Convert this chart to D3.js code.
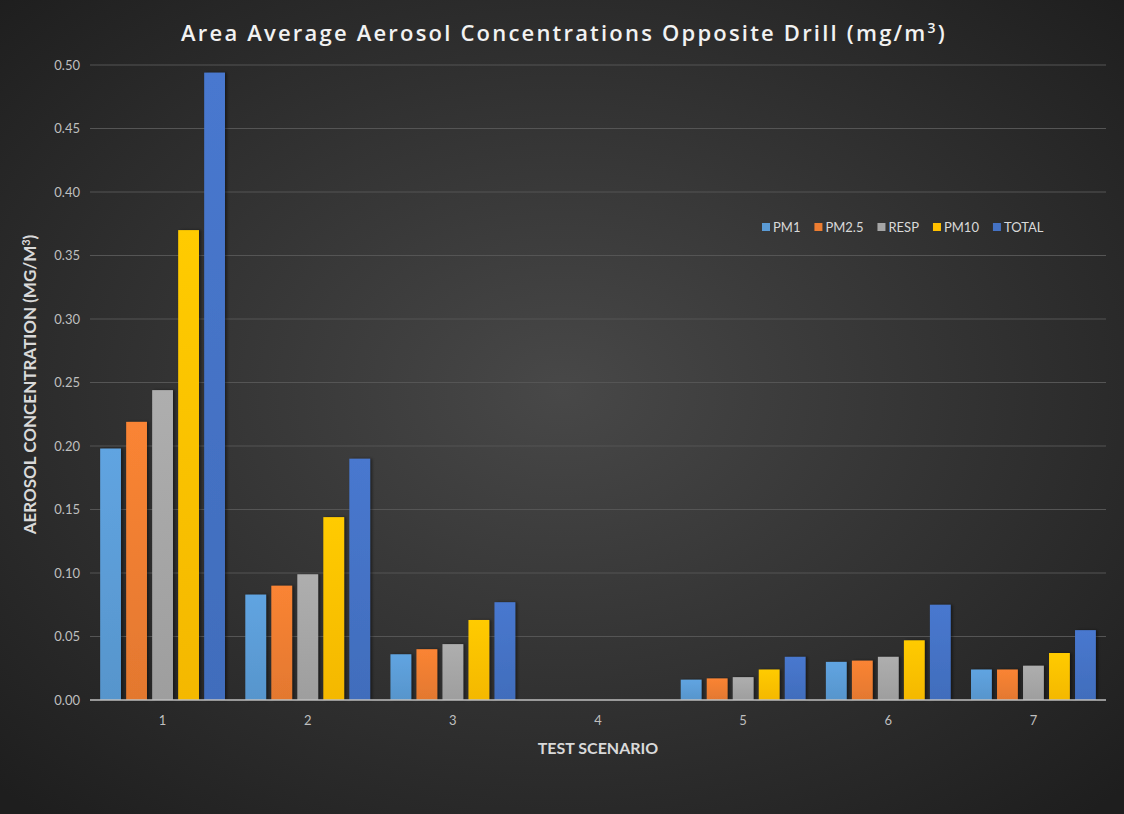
<!DOCTYPE html>
<html>
<head>
<meta charset="utf-8">
<script src="https://cdn.jsdelivr.net/npm/d3@7"></script>
<style>
  html, body { margin: 0; padding: 0; background: #2a2a2a; }
  svg { display: block; }
</style>
</head>
<body>
<div id="chart"></div>
<script>
// Area average aerosol concentrations opposite drill, grouped by test scenario
const scenarios = ['1', '2', '3', '4', '5', '6', '7'];
const seriesNames = ['PM1', 'PM2.5', 'RESP', 'PM10', 'TOTAL'];
const pm1   = [0.198, 0.083, 0.036, 0, 0.016, 0.030, 0.024];
const pm25  = [0.219, 0.090, 0.040, 0, 0.017, 0.031, 0.024];
const resp  = [0.244, 0.099, 0.044, 0, 0.018, 0.034, 0.027];
const pm10  = [0.370, 0.144, 0.063, 0, 0.024, 0.047, 0.037];
const total = [0.494, 0.190, 0.077, 0, 0.034, 0.075, 0.055];
const yTicks = [0, 0.05, 0.10, 0.15, 0.20, 0.25, 0.30, 0.35, 0.40, 0.45, 0.50];

const seriesValues = [pm1, pm25, resp, pm10, total];
const colors = ['#5b9bd5', '#ed7d31', '#a5a5a5', '#ffc000', '#4472c4'];

const chartData = scenarios.map((s, i) => ({
    scenario: s,
    values: seriesNames.map((n, j) => ({ key: n, idx: j, value: seriesValues[j][i] }))
}));

const svgWidth = 1124;
const svgHeight = 814;
const margin = { top: 65, right: 18, bottom: 114, left: 90 };
const width = svgWidth - margin.left - margin.right;
const height = svgHeight - margin.top - margin.bottom;

const root = d3.select('#chart')
    .append('svg')
    .attr('width', svgWidth)
    .attr('height', svgHeight);

const defs = root.append('defs');
const bg = defs.append('radialGradient')
    .attr('id', 'bg')
    .attr('cx', '50%').attr('cy', '48%').attr('r', '70%');
bg.append('stop').attr('offset', '0%').attr('stop-color', '#484848');
bg.append('stop').attr('offset', '100%').attr('stop-color', '#1e1e1e');

colors.forEach((c, i) => {
    const g = defs.append('linearGradient')
        .attr('id', 'bar' + i)
        .attr('x1', 0).attr('y1', 0).attr('x2', 0).attr('y2', 1);
    g.append('stop').attr('offset', '0%').attr('stop-color', d3.color(c).brighter(0.15));
    g.append('stop').attr('offset', '100%').attr('stop-color', d3.color(c).darker(0.12));
});

const shadow = defs.append('filter').attr('id', 'shadow')
    .attr('x', '-20%').attr('y', '-5%').attr('width', '150%').attr('height', '110%');
shadow.append('feDropShadow')
    .attr('dx', 2).attr('dy', 0).attr('stdDeviation', 1.5)
    .attr('flood-color', '#000').attr('flood-opacity', 0.45);

root.append('rect')
    .attr('width', svgWidth)
    .attr('height', svgHeight)
    .attr('fill', 'url(#bg)');

const svg = root.append('g')
    .attr('transform', `translate(${margin.left},${margin.top})`);

const x0 = d3.scaleBand()
    .domain(scenarios)
    .range([0, width])
    .paddingInner(0.14)
    .paddingOuter(0.07);
const x1 = d3.scaleBand()
    .domain(seriesNames)
    .range([0, x0.bandwidth()])
    .paddingInner(0.2);
const yScale = d3.scaleLinear()
    .domain([0, 0.5])
    .range([height, 0]);

// gridlines
svg.append('g')
    .selectAll('line')
    .data(yTicks.slice(1))
    .enter()
    .append('line')
    .attr('x1', 0)
    .attr('x2', width)
    .attr('y1', d => yScale(d))
    .attr('y2', d => yScale(d))
    .attr('stroke', '#555555')
    .attr('stroke-width', 1);

// y tick labels
svg.append('g')
    .selectAll('text')
    .data(yTicks)
    .enter()
    .append('text')
    .attr('x', -10)
    .attr('y', d => yScale(d))
    .attr('dy', '0.35em')
    .attr('text-anchor', 'end')
    .attr('fill', '#bfbfbf')
    .style('font-family', 'Lato, "Open Sans", sans-serif')
    .style('font-size', '13px')
    .text(d => d3.format('.2f')(d));

// bars
const groups = svg.selectAll('.grp')
    .data(chartData)
    .enter()
    .append('g')
    .attr('class', 'grp')
    .attr('transform', d => `translate(${x0(d.scenario)},0)`);

groups.selectAll('rect')
    .data(d => d.values.filter(v => v.value > 0))
    .enter()
    .append('rect')
    .attr('x', d => x1(d.key))
    .attr('y', d => yScale(d.value))
    .attr('width', x1.bandwidth())
    .attr('height', d => height - yScale(d.value))
    .attr('fill', d => `url(#bar${d.idx})`)
    .attr('filter', 'url(#shadow)');

// x axis line
svg.append('line')
    .attr('x1', 0)
    .attr('x2', width)
    .attr('y1', height)
    .attr('y2', height)
    .attr('stroke', '#bfbfbf')
    .attr('stroke-width', 1.5);

// x tick labels
svg.append('g')
    .selectAll('text')
    .data(scenarios)
    .enter()
    .append('text')
    .attr('x', d => x0(d) + x0.bandwidth() / 2)
    .attr('y', height + 25)
    .attr('text-anchor', 'middle')
    .attr('fill', '#bfbfbf')
    .style('font-family', 'Lato, "Open Sans", sans-serif')
    .style('font-size', '13px')
    .text(d => d);

// axis titles
svg.append('text')
    .attr('x', width / 2)
    .attr('y', height + 54)
    .attr('text-anchor', 'middle')
    .attr('fill', '#d9d9d9')
    .style('font-family', 'Lato, "Open Sans", sans-serif')
    .style('font-weight', 'bold')
    .style('font-size', '16px')
    .text('TEST SCENARIO');

svg.append('text')
    .attr('transform', `translate(-54,${height / 2 + 2}) rotate(-90)`)
    .attr('text-anchor', 'middle')
    .attr('fill', '#d9d9d9')
    .style('font-family', 'Lato, "Open Sans", sans-serif')
    .style('font-weight', 'bold')
    .style('font-size', '17px')
    .html('AEROSOL CONCENTRATION (MG/M<tspan dy="-6" font-size="11px">3</tspan><tspan dy="6">)</tspan>');

// title
root.append('text')
    .attr('x', 564)
    .attr('y', 41)
    .attr('text-anchor', 'middle')
    .attr('fill', '#f2f2f2')
    .style('font-family', '"Open Sans", sans-serif')
    .style('font-weight', 600)
    .style('font-size', '22px')
    .style('letter-spacing', '2.2px')
    .html('Area Average Aerosol Concentrations Opposite Drill (mg/m<tspan dy="-8" font-size="14px">3</tspan><tspan dy="8">)</tspan>');

// legend
const legend = root.append('g')
    .attr('transform', 'translate(762,227)');
let lx = 0;
seriesNames.forEach((n, i) => {
    const item = legend.append('g').attr('transform', `translate(${lx},0)`);
    item.append('rect')
        .attr('x', 0)
        .attr('y', -4)
        .attr('width', 8)
        .attr('height', 8)
        .attr('fill', colors[i]);
    const t = item.append('text')
        .attr('x', 11)
        .attr('y', 0)
        .attr('dy', '0.35em')
        .attr('fill', '#d9d9d9')
        .style('font-family', 'Lato, "Open Sans", sans-serif')
        .style('font-size', '13px')
        .text(n);
    lx += 11 + t.node().getComputedTextLength() + 14;
});
</script>
</body>
</html>
